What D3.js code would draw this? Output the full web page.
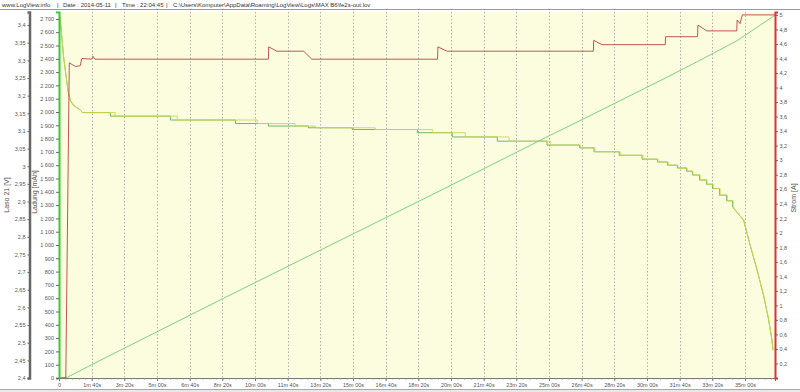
<!DOCTYPE html>
<meta charset="utf-8">
<style>

body {
  margin: 0;
  background: #fff;
}

svg {
  display: block;
  font-family: "Liberation Sans", Arial, sans-serif;
}

.tick text {
  fill: #555;
  font-size: 5.5px;
}

.grid line {
  stroke: #a0a0a0;
  stroke-width: .8px;
  stroke-dasharray: 1.5,2;
}

.title {
  fill: #555;
  font-size: 7px;
}

</style>
<body>
<script src="https://d3js.org/d3.v7.min.js"></script>
<script>

var width = 800,
    height = 392;

var margin = {top: 12, right: 25, bottom: 14, left: 59};

// header line
var headerParts = ["www.LogView.info", "|", "Date : 2014-05-11", "|", "Time : 22:04:45", "|",
                   "C:\\Users\\Komputer\\AppData\\Roaming\\LogView\\Logs\\MAX B6\\fe2s-out.lov"];
var headerX = [2, 57, 63, 115, 122, 166, 173];

// x axis: seconds
var xTickValues = [0, 100, 200, 300, 400, 500, 600, 700, 800, 900, 1000, 1100, 1200, 1300, 1400,
                   1500, 1600, 1700, 1800, 1900, 2000, 2100];
var xTickLabels = ["0", "1m 40s", "3m 20s", "5m 00s", "6m 40s", "8m 20s", "10m 00s", "11m 40s",
                   "13m 20s", "15m 00s", "16m 40s", "18m 20s", "20m 00s", "21m 40s", "23m 20s",
                   "25m 00s", "26m 40s", "28m 20s", "30m 00s", "31m 40s", "33m 20s", "35m 00s"];
var tEnd = 2192;

// Ladung [mAh]
var ladungT   = [0, 25, 100, 500, 1000, 1160, 1500, 1636, 1856, 1955, 2075, 2192];
var ladungMah = [0, 5, 100, 595, 1205, 1400, 1820, 1985, 2255, 2380, 2535, 2728];

// Strom [A]
var stromT = [0, 20.8, 31.5, 50, 65, 70, 100, 104, 110, 641, 642, 667, 749, 774, 1159, 1160, 1188,
              1636, 1637, 1662, 1856, 1857, 1955, 1956, 1983, 2075, 2076, 2085, 2092, 2192];
var stromA = [0, 0, 4.34, 4.29, 4.30, 4.40, 4.39, 4.43, 4.39, 4.39, 4.56, 4.50, 4.50, 4.39, 4.39, 4.56, 4.50,
              4.50, 4.65, 4.59, 4.59, 4.70, 4.70, 4.86, 4.78, 4.78, 4.93, 4.88, 5.0, 5.0];

// Laso 21 [V] - two cells
var cellHeadT = [0, 5.5, 14, 24.5, 28.5, 34.6, 43.8, 56, 65.2, 72.2];
var cellHeadV = [3.437, 3.40, 3.31, 3.235, 3.21, 3.187, 3.173, 3.165, 3.159, 3.152];
var cellLevels = [3.152, 3.142, 3.131, 3.121, 3.114, 3.109, 3.104, 3.095, 3.083, 3.071, 3.060, 3.052,
                  3.041, 3.031, 3.020, 3.012, 3.003, 2.995, 2.986, 2.975, 2.961, 2.949, 2.937, 2.918,
                  2.902, 2.885];
var cell1StepT = [172, 362, 607, 723, 785, 968, 1143, 1244, 1378, 1504, 1596, 1641, 1718, 1788, 1834,
                  1865, 1895, 1923, 1941, 1963, 1984, 2003, 2024, 2046, 2064];
var cell2StepT = [157, 341, 540, 641, 763, 898, 1097, 1204, 1342, 1494, 1594, 1638, 1715, 1785, 1832,
                  1863, 1893, 1921, 1939, 1961, 1982, 2001, 2022, 2044, 2062];
var cellTailT = [2075, 2096, 2116, 2136, 2157, 2172, 2182, 2186];
var cellTailV = [2.870, 2.847, 2.776, 2.710, 2.634, 2.568, 2.512, 2.479];

var lasoTicks = d3.range(0, 21).map(function(i) { return +(2.4 + i * 0.05).toFixed(2); });
var ladungTicks = d3.range(0, 2701, 100);
var stromTicks = d3.range(1, 26).map(function(i) { return +(i * 0.2).toFixed(1); });

var locale = d3.formatLocale({decimal: ",", thousands: " ", grouping: [3], currency: ["", ""]});

var x = d3.scaleLinear().domain([0, tEnd]).range([margin.left, width - margin.right]);
var yLaso = d3.scaleLinear().domain([2.4, 3.437]).range([height - margin.bottom, margin.top]);
var yLadung = d3.scaleLinear().domain([0, 2752]).range([height - margin.bottom, margin.top]);
var yStrom = d3.scaleLinear().domain([0, 5.04]).range([height - margin.bottom, margin.top]);

var svg = d3.select("body").append("svg")
    .attr("width", width)
    .attr("height", height);

// header
svg.selectAll(".header")
    .data(headerParts)
  .enter().append("text")
    .attr("class", "header")
    .attr("x", function(d, i) { return headerX[i]; })
    .attr("y", 7)
    .attr("font-size", "6px")
    .attr("fill", "#333")
    .text(function(d) { return d; });

svg.append("line")
    .attr("x1", 0).attr("x2", width)
    .attr("y1", 9.5).attr("y2", 9.5)
    .attr("stroke", "#999");

// bottom band
svg.append("rect")
    .attr("x", 0).attr("y", 389)
    .attr("width", width).attr("height", 3)
    .attr("fill", "#e8e8e8");
svg.append("line")
    .attr("x1", 0).attr("x2", width)
    .attr("y1", 389.5).attr("y2", 389.5)
    .attr("stroke", "#aaa");

// plot background
svg.append("rect")
    .attr("x", x(0)).attr("y", margin.top)
    .attr("width", x(tEnd) - x(0))
    .attr("height", height - margin.bottom - margin.top)
    .attr("fill", "#fcfcde");

svg.append("clipPath")
    .attr("id", "clip")
  .append("rect")
    .attr("x", x(0)).attr("y", margin.top)
    .attr("width", x(tEnd) - x(0))
    .attr("height", height - margin.bottom - margin.top);

// vertical grid
svg.append("g")
    .attr("class", "grid")
  .selectAll("line")
    .data(xTickValues.slice(1))
  .enter().append("line")
    .attr("x1", function(d) { return Math.round(x(d)) + .5; })
    .attr("x2", function(d) { return Math.round(x(d)) + .5; })
    .attr("y1", margin.top)
    .attr("y2", height - margin.bottom);

// build cell lines from levels and step times
function cellPoints(stepT) {
  var pts = cellHeadT.map(function(t, i) { return [t, cellHeadV[i]]; });
  stepT.forEach(function(t, i) {
    pts.push([t, cellLevels[i]]);
    pts.push([t, cellLevels[i + 1]]);
  });
  cellTailT.forEach(function(t, i) { pts.push([t, cellTailV[i]]); });
  return pts;
}

var plot = svg.append("g").attr("clip-path", "url(#clip)");

var lineLaso = d3.line()
    .x(function(d) { return x(d[0]); })
    .y(function(d) { return yLaso(d[1]); });

var lineLadung = d3.line()
    .x(function(d) { return x(d[0]); })
    .y(function(d) { return yLadung(d[1]); });

var lineStrom = d3.line()
    .x(function(d) { return x(d[0]); })
    .y(function(d) { return yStrom(d[1]); });

plot.append("path")
    .datum(ladungT.map(function(t, i) { return [t, ladungMah[i]]; }))
    .attr("d", lineLadung)
    .attr("fill", "none")
    .attr("stroke", "#7ed27e")
    .attr("stroke-width", 1);

plot.append("path")
    .datum(cellPoints(cell2StepT))
    .attr("d", lineLaso)
    .attr("fill", "none")
    .attr("stroke", "#4aa84a")
    .attr("stroke-width", .8);

plot.append("path")
    .datum(cellPoints(cell1StepT))
    .attr("d", lineLaso)
    .attr("fill", "none")
    .attr("stroke", "#ccd84a")
    .attr("stroke-width", .9);

plot.append("path")
    .datum(stromT.map(function(t, i) { return [t, stromA[i]]; }))
    .attr("d", lineStrom)
    .attr("fill", "none")
    .attr("stroke", "#b84444")
    .attr("stroke-width", .9);

// x axis
var xAxis = svg.append("g")
    .attr("transform", "translate(0," + (height - margin.bottom) + ")")
    .call(d3.axisBottom(x)
        .tickValues(xTickValues)
        .tickSize(3)
        .tickPadding(2)
        .tickFormat(function(d, i) { return xTickLabels[i]; }));
xAxis.select(".domain").attr("stroke", "#777");
xAxis.selectAll(".tick line").attr("stroke", "#777");

svg.append("g")
    .attr("transform", "translate(0," + (height - margin.bottom) + ")")
    .call(d3.axisBottom(x)
        .tickValues(d3.range(0, tEnd, 20))
        .tickSize(1.5)
        .tickFormat(""))
    .call(function(g) { g.select(".domain").remove(); })
    .selectAll("line").attr("stroke", "#888");

// Laso axis
var lasoAxis = svg.append("g")
    .attr("transform", "translate(29.5,0)")
    .call(d3.axisLeft(yLaso)
        .tickValues(lasoTicks)
        .tickSize(2)
        .tickPadding(2)
        .tickFormat(locale.format("~g")));
lasoAxis.select(".domain").attr("stroke", "#666").attr("stroke-width", 2.5);
lasoAxis.selectAll(".tick line").attr("stroke", "#666");

// Ladung axis
var ladungAxis = svg.append("g")
    .attr("transform", "translate(" + x(0) + ",0)")
    .call(d3.axisLeft(yLadung)
        .tickValues(ladungTicks)
        .tickSize(3)
        .tickPadding(2)
        .tickFormat(locale.format(",")));
ladungAxis.select(".domain").attr("stroke", "#3c3").attr("stroke-width", 2);
ladungAxis.selectAll(".tick line").attr("stroke", "#666");

// Strom axis
var stromAxis = svg.append("g")
    .attr("transform", "translate(" + x(tEnd) + ",0)")
    .call(d3.axisRight(yStrom)
        .tickValues(stromTicks)
        .tickSize(3)
        .tickPadding(1.5)
        .tickFormat(locale.format("~g")));
stromAxis.select(".domain").attr("stroke", "#e03030").attr("stroke-width", 2);
stromAxis.selectAll(".tick line").attr("stroke", "#666");

// axis titles
svg.append("text")
    .attr("class", "title")
    .attr("transform", "translate(9,195) rotate(-90)")
    .attr("text-anchor", "middle")
    .text("Laso 21 [V]");

svg.append("text")
    .attr("class", "title")
    .attr("transform", "translate(37,192) rotate(-90)")
    .attr("text-anchor", "middle")
    .text("Ladung [mAh]");

svg.append("text")
    .attr("class", "title")
    .attr("transform", "translate(796,198) rotate(-90)")
    .attr("text-anchor", "middle")
    .text("Strom [A]");

</script>
